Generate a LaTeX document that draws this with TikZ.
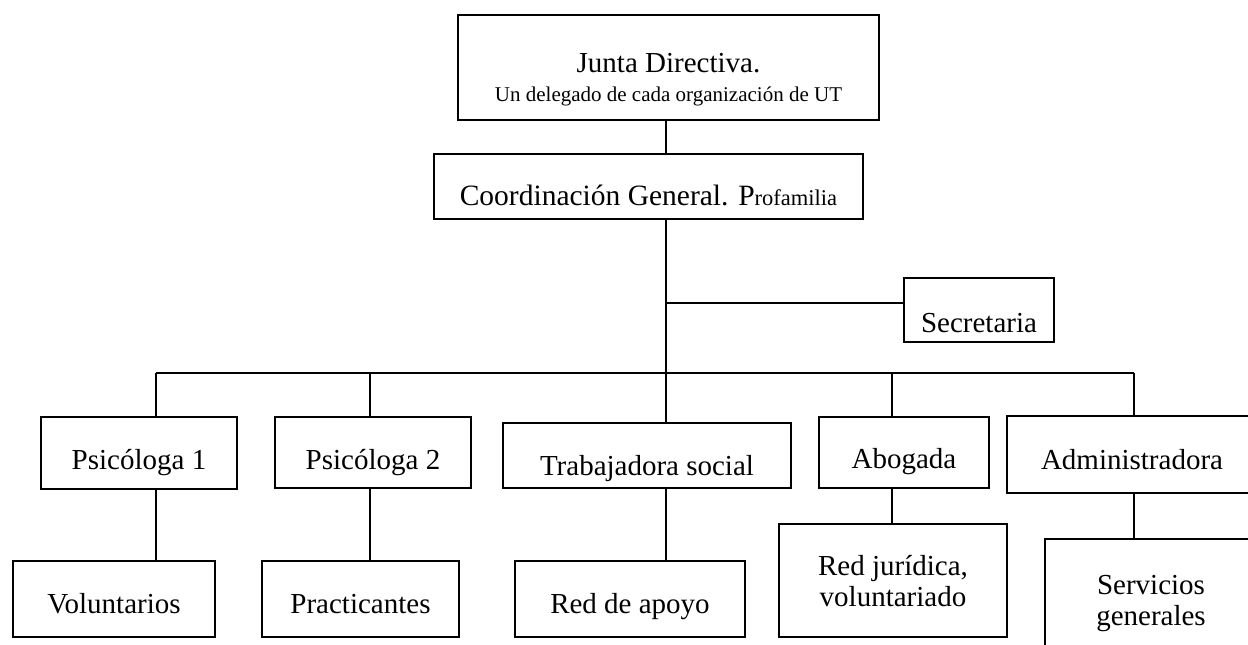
\documentclass[tikz,border=0pt]{standalone}
\usepackage{fontspec}
\setmainfont{Liberation Serif}

\begin{document}
\begin{tikzpicture}[x=1pt,y=-1pt,
  every node/.style={black},
  caja/.style={draw, line width=2pt, inner sep=0pt, anchor=north west,
    font=\fontsize{29}{31}\selectfont},
  linea/.style={line width=2pt}]
\path[use as bounding box, fill=white] (0,0) rectangle (1248,645);

% direccion
\node[caja, minimum width=421, text height=86, text depth=19, align=center] (junta) at (457,14)
  {Junta Directiva.\\[-2pt]{\fontsize{21}{24}\selectfont Un delegado de cada organización de UT}};
\node[caja, minimum width=429, text height=51, text depth=14, font=\fontsize{29.5}{32}\selectfont] (coord) at (433,153)
  {Coordinación General. P{\fontsize{22.5}{24}\selectfont rofamilia}};
\node[caja, minimum width=150, text height=54, text depth=10] (secre) at (903,277) {Secretaria};

% equipo
\node[caja, minimum width=196, text height=52, text depth=20] (psi1) at (40,416) {Psicóloga 1};
\node[caja, minimum width=196, text height=52, text depth=19] (psi2) at (274,416) {Psicóloga 2};
\node[caja, minimum width=288, text height=52, text depth=13] (trab) at (502,422) {Trabajadora social};
\node[caja, minimum width=170, text height=51, text depth=20] (abog) at (818,416) {Abogada};
\node[caja, minimum width=250, text height=53, text depth=24] (admin) at (1006,415) {Administradora};

% apoyo
\node[caja, minimum width=202, text height=52, text depth=24] (volu) at (12,560) {Voluntarios};
\node[caja, minimum width=197, text height=52, text depth=24] (prac) at (261,560) {Practicantes};
\node[caja, minimum width=230, text height=52, text depth=24] (apoyo) at (514,560) {Red de apoyo};
\node[caja, minimum width=228, text height=82, text depth=31, align=center] (juri) at (778,523)
  {Red jurídica,\\voluntariado};
\node[caja, minimum width=212, text height=86, text depth=56, align=center] (serv) at (1044,538)
  {Servicios\\generales};

% lineas
\coordinate (ramal) at (666,303);
\coordinate (b1) at (156,373);
\coordinate (b2) at (370,373);
\coordinate (b3) at (666,373);
\coordinate (b4) at (892,373);
\coordinate (b5) at (1134,373);

\draw[linea] (junta.south -| b3) -- (coord.north -| b3);
\draw[linea] (coord.south -| b3) -- (b3);
\draw[linea] (ramal) -- (ramal -| secre.west);
\draw[linea] (b1) -- (b5);
\draw[linea] (b1) -- (b1 |- psi1.north) (b1 |- psi1.south) -- (b1 |- volu.north);
\draw[linea] (b2) -- (b2 |- psi2.north) (b2 |- psi2.south) -- (b2 |- prac.north);
\draw[linea] (b3) -- (b3 |- trab.north) (b3 |- trab.south) -- (b3 |- apoyo.north);
\draw[linea] (b4) -- (b4 |- abog.north) (b4 |- abog.south) -- (b4 |- juri.north);
\draw[linea] (b5) -- (b5 |- admin.north) (b5 |- admin.south) -- (b5 |- serv.north);
\end{tikzpicture}
\end{document}
